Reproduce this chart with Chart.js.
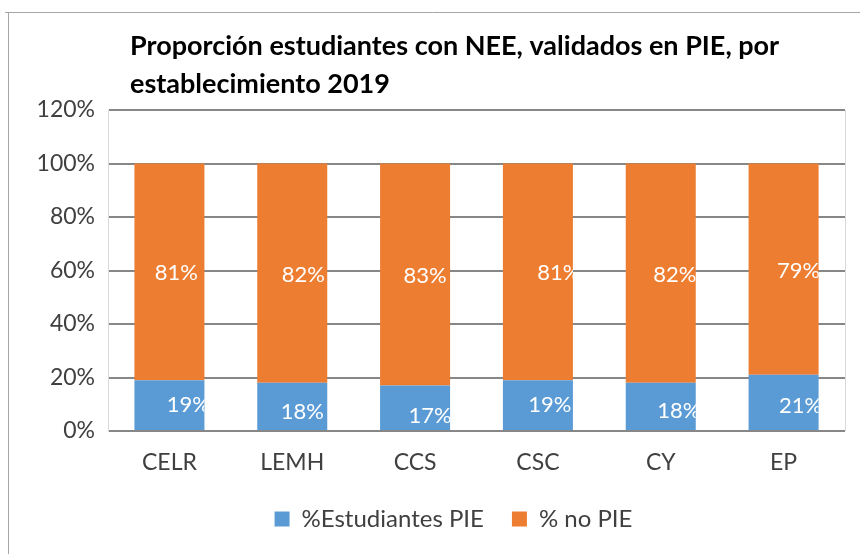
<!DOCTYPE html>
<html>
<head>
<meta charset="utf-8">
<script src="https://cdn.jsdelivr.net/npm/chart.js@4/dist/chart.umd.min.js"></script>
<style>
html,body{margin:0;padding:0;background:#fff;}
#wrap{width:860px;height:554px;position:relative;}
</style>
</head>
<body>
<div id="wrap"><canvas id="c" width="860" height="554"></canvas></div>
<script>
// ---- data ----
const categories = ['CELR', 'LEMH', 'CCS', 'CSC', 'CY', 'EP'];
const pctPIE = [19, 18, 17, 19, 18, 21];
const pctNoPIE = [81, 82, 83, 81, 82, 79];
const seriesNames = ['%Estudiantes PIE', '% no PIE'];
const yTicks = [0, 20, 40, 60, 80, 100, 120];
const titleLines = ['Proporción estudiantes con NEE, validados en PIE, por', 'establecimiento 2019'];

// ---- style ----
const colors = ['#5B9BD5', '#ED7D31'];
const labelDx = [[19, 10, 15, 12, 18, 17], [7, 11, 10, 21, 14, 15]];
const labelDy = [[0, 5, 8, 0, 4, 3], [1, 2, 1, 1, 2, 2]];
const FONT = 'Lato';
const PAD_L = 20, PAD_R = 15, PAD_TOP = 110, PAD_BOTTOM = 13;
const LEGEND_SHIFT = 21;

const framePlugin = {
  id: 'frame',
  afterLayout(chart) {
    const l = chart.legend;
    if (l) { l.left += LEGEND_SHIFT; l.right += LEGEND_SHIFT; }
  },
  beforeDraw(chart) {
    const ctx = chart.ctx;
    ctx.save();
    ctx.fillStyle = '#fff';
    ctx.fillRect(0, 0, chart.width, chart.height);
    ctx.strokeStyle = '#a6a6a6';
    ctx.lineWidth = 1;
    ctx.beginPath();
    ctx.moveTo(5, 12.5); ctx.lineTo(860, 12.5);
    ctx.moveTo(8.5, 12); ctx.lineTo(8.5, 554);
    ctx.stroke();
    // title
    ctx.fillStyle = '#000';
    ctx.font = 'bold 27px ' + FONT;
    ctx.textAlign = 'left';
    ctx.textBaseline = 'middle';
    ctx.fillText(titleLines[0], 130, 46);
    ctx.fillText(titleLines[1], 130, 84);
    ctx.restore();
  },
  beforeDatasetsDraw(chart) {
    const ctx = chart.ctx, a = chart.chartArea;
    ctx.save();
    ctx.strokeStyle = '#d9d9d9';
    ctx.lineWidth = 1;
    ctx.beginPath();
    ctx.moveTo(a.right + 0.5, a.top); ctx.lineTo(a.right + 0.5, a.bottom);
    ctx.stroke();
    ctx.restore();
  }
};

const labelPlugin = {
  id: 'vals',
  afterDatasetsDraw(chart) {
    const ctx = chart.ctx, a = chart.chartArea;
    chart.data.datasets.forEach((ds, di) => {
      const meta = chart.getDatasetMeta(di);
      meta.data.forEach((bar, i) => {
        const p = bar.getProps(['x', 'y', 'base', 'width'], true);
        const cx = p.x + labelDx[di][i];
        const cy = (p.y + p.base) / 2 + labelDy[di][i];
        ctx.save();
        ctx.beginPath();
        ctx.rect(p.x - p.width / 2, a.top, p.width, a.bottom - a.top);
        ctx.clip();
        ctx.fillStyle = '#fff';
        ctx.font = '22px ' + FONT;
        ctx.textAlign = 'center';
        ctx.textBaseline = 'middle';
        ctx.fillText(ds.data[i] + '%', cx, cy);
        ctx.restore();
      });
    });
  }
};

Chart.defaults.font.family = FONT;

new Chart(document.getElementById('c'), {
  type: 'bar',
  data: {
    labels: categories,
    datasets: [
      { label: seriesNames[0], data: pctPIE, backgroundColor: colors[0], borderWidth: 0, barPercentage: 0.57, categoryPercentage: 1 },
      { label: seriesNames[1], data: pctNoPIE, backgroundColor: colors[1], borderWidth: 0, barPercentage: 0.57, categoryPercentage: 1 }
    ]
  },
  options: {
    responsive: false,
    animation: false,
    devicePixelRatio: 1,
    layout: { padding: { top: PAD_TOP, left: PAD_L, right: PAD_R, bottom: PAD_BOTTOM } },
    plugins: {
      title: { display: false },
      tooltip: { enabled: false },
      legend: {
        position: 'bottom',
        labels: {
          color: '#404040',
          font: { size: 24, family: FONT },
          boxWidth: 15,
          boxHeight: 15,
          padding: 28
        }
      }
    },
    scales: {
      x: {
        stacked: true,
        grid: { display: false },
        border: { display: false },
        ticks: { color: '#404040', font: { size: 23 }, padding: 10 },
        afterFit(s) { s.height = 48; }
      },
      y: {
        stacked: true,
        min: yTicks[0],
        max: yTicks[yTicks.length - 1],
        grid: { color: '#878787', lineWidth: 2, drawTicks: false },
        border: { display: true, color: '#d9d9d9', width: 1 },
        ticks: {
          stepSize: yTicks[1] - yTicks[0],
          color: '#404040',
          font: { size: 23 },
          padding: 13,
          callback: (v) => v + '%'
        },
        afterFit(s) { s.width = 108 - PAD_L; }
      }
    }
  },
  plugins: [framePlugin, labelPlugin]
});
</script>
</body>
</html>
